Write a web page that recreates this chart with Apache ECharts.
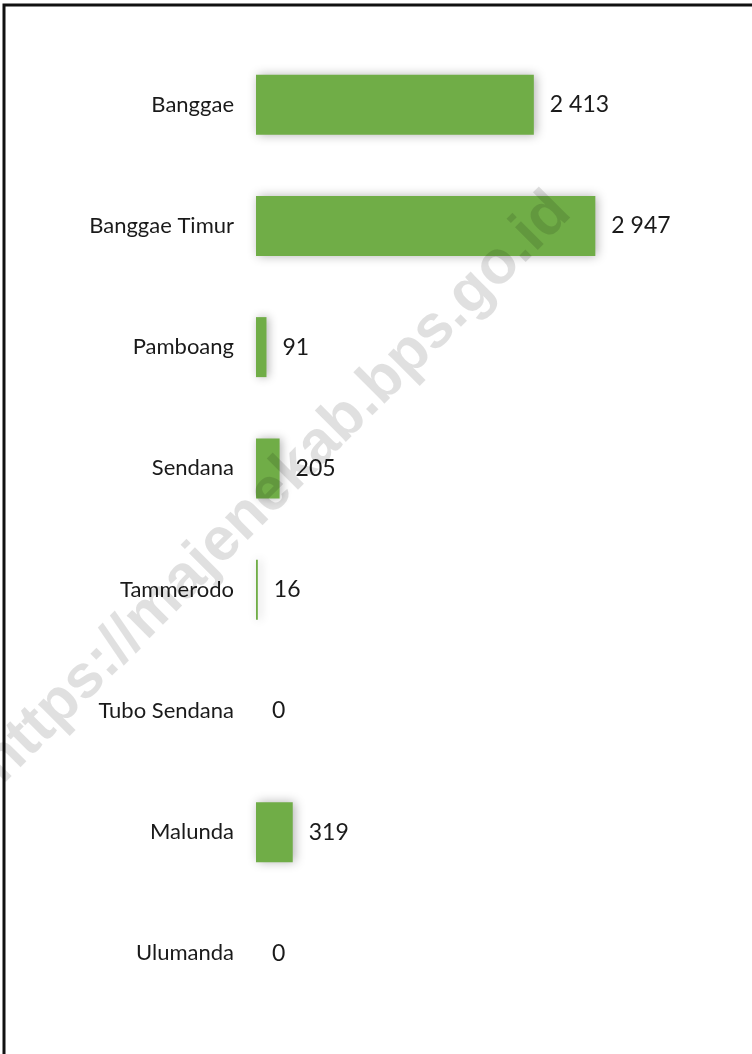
<!DOCTYPE html>
<html>
<head>
<meta charset="utf-8">
<script src="https://cdn.jsdelivr.net/npm/echarts@6/dist/echarts.min.js"></script>
<style>
  html, body { margin: 0; padding: 0; background: #fff; }
  #chart { width: 752px; height: 1054px; }
</style>
</head>
<body>
<div id="chart"></div>
<script>
// kecamatan dan nilainya
var kecamatan = ['Banggae', 'Banggae Timur', 'Pamboang', 'Sendana', 'Tammerodo', 'Tubo Sendana', 'Malunda', 'Ulumanda'];
var nilai = [2413, 2947, 91, 205, 16, 0, 319, 0];
var watermark = 'https://majenekab.bps.go.id';

function formatAngka(v) {
    // pemisah ribuan pakai spasi
    return String(v).replace(/\B(?=(\d{3})+(?!\d))/g, ' ');
}

var myChart = echarts.init(document.getElementById('chart'));
var option = {
    backgroundColor: '#fff',
    animation: false,
    grid: { left: 256, right: 93, top: 44, bottom: 40 },
    xAxis: {
        type: 'value',
        min: 0,
        max: 3500,
        show: false
    },
    yAxis: {
        type: 'category',
        data: kecamatan,
        inverse: true,
        axisLine: { show: false },
        axisTick: { show: false },
        axisLabel: {
            margin: 22,
            color: '#1a1a1a',
            fontFamily: 'Lato',
            fontSize: 22
        }
    },
    series: [{
        type: 'bar',
        data: nilai,
        barWidth: 60,
        itemStyle: {
            color: '#70AD47',
            shadowColor: 'rgba(0,0,0,0.3)',
            shadowBlur: 10,
            shadowOffsetX: 2
        },
        label: {
            show: true,
            position: 'right',
            distance: 16,
            color: '#1a1a1a',
            fontFamily: 'Lato',
            fontSize: 23,
            formatter: function (p) { return formatAngka(p.value); }
        }
    }],
    graphic: [
        {
            type: 'rect',
            shape: { x: 4, y: 5, width: 800, height: 1100 },
            style: { fill: 'none', stroke: '#111', lineWidth: 3 },
            silent: true
        },
        {
            type: 'text',
            x: 276,
            y: 488,
            rotation: Math.PI / 4,
            z: 100,
            style: {
                text: watermark,
                font: 'bold 61px "Liberation Sans"',
                fill: 'rgba(0,0,0,0.12)',
                align: 'center',
                verticalAlign: 'middle'
            },
            silent: true
        }
    ]
};
myChart.setOption(option);
</script>
</body>
</html>
